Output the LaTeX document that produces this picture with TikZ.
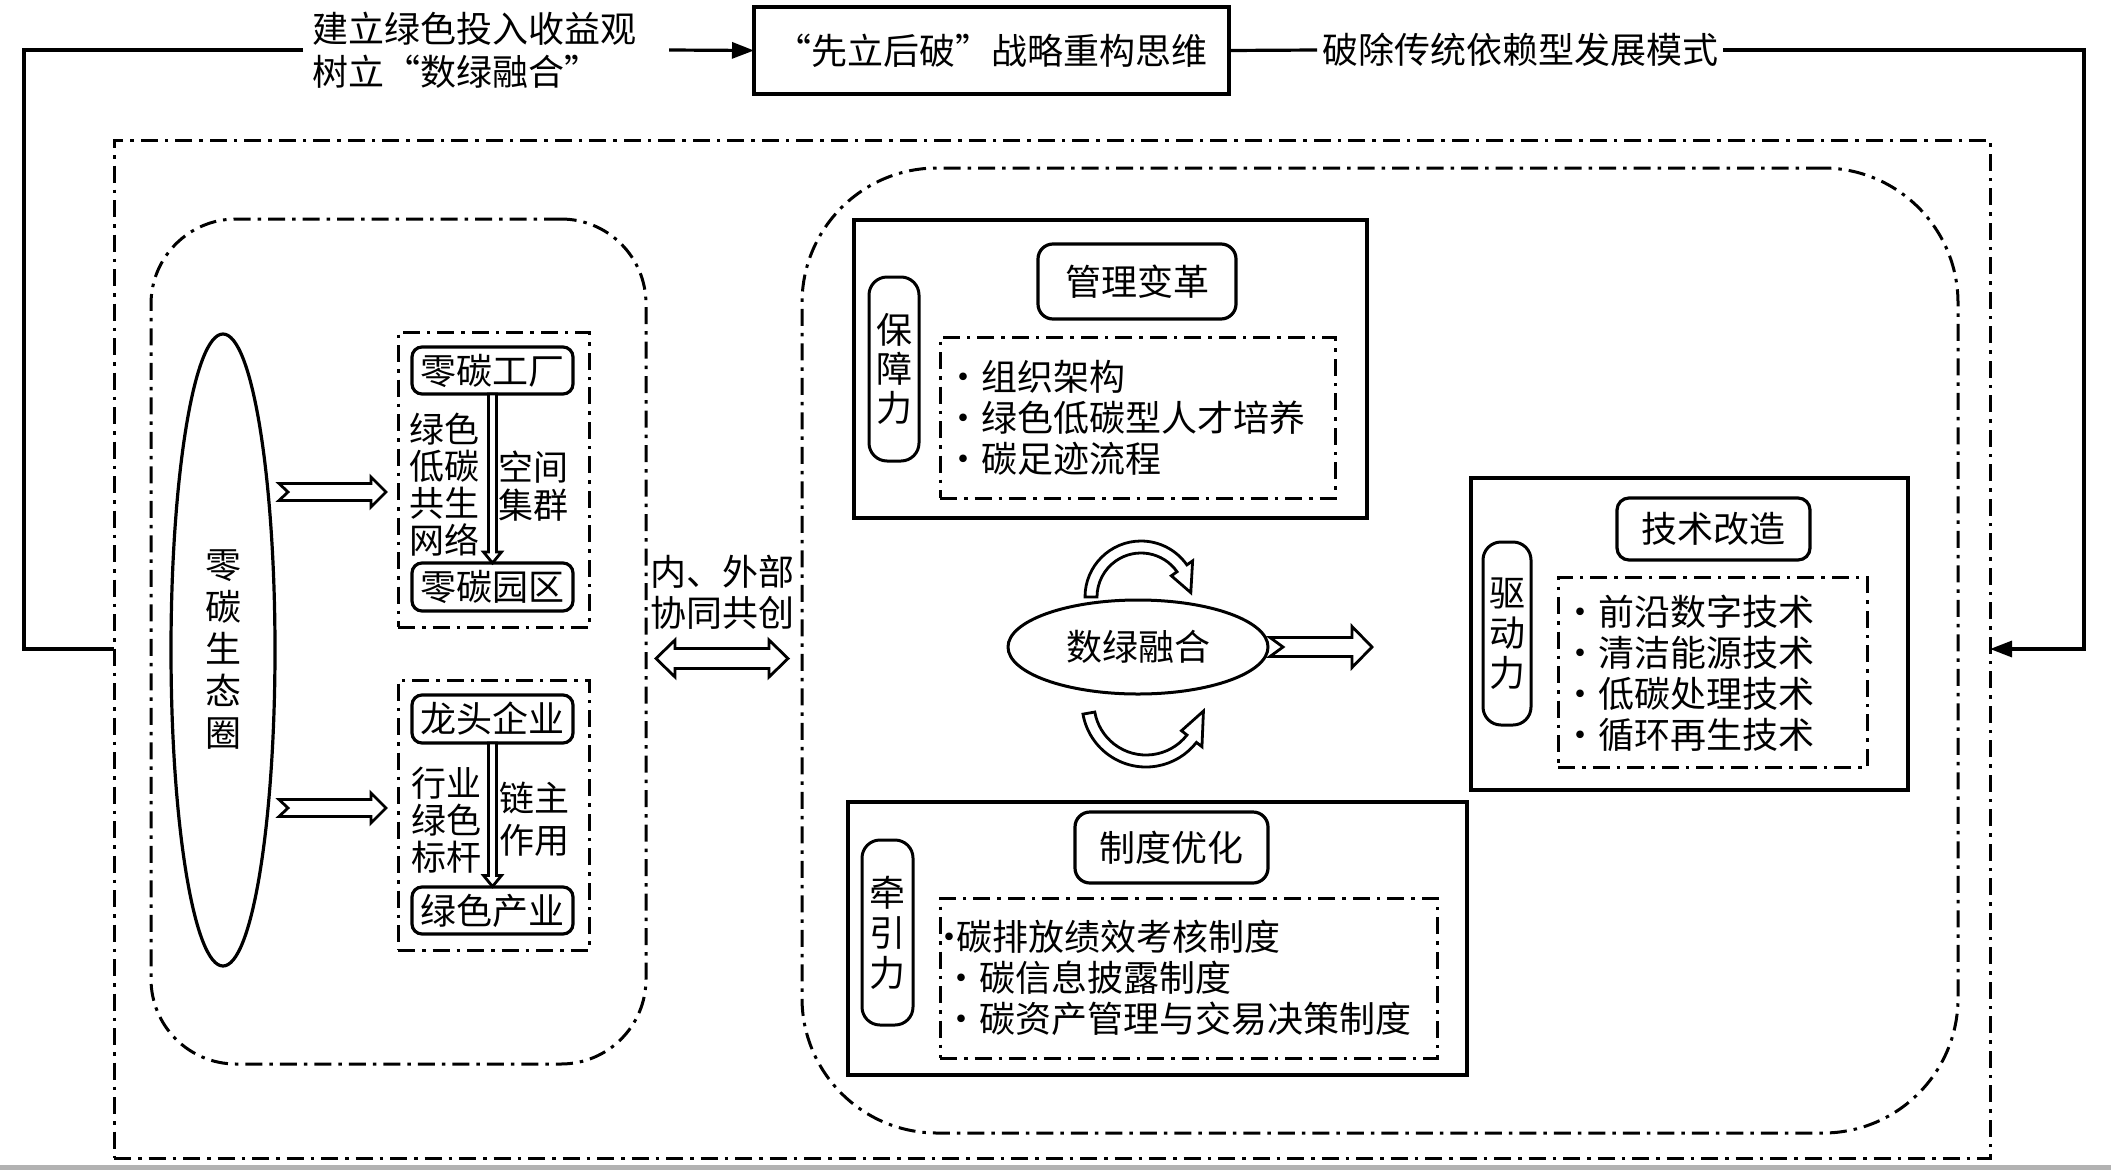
\documentclass[tikz,border=0pt]{standalone}
\usepackage{fontspec}
\setmainfont{Noto Sans CJK SC}
\usetikzlibrary{arrows.meta,calc,shapes.geometric}
\tikzset{
  sz/.style 2 args={minimum width=#1pt, minimum height=#2pt},
  sbox/.style={draw, line width=3.2pt, rectangle},
  rbox/.style={draw, line width=3.2pt, rounded corners=10pt},
  ddbox/.style={draw, line width=3pt, dash pattern=on 17pt off 7pt on 3.5pt off 7pt},
  pill/.style={draw, line width=3pt, rounded corners=18pt},
  conn/.style={line width=3.2pt},
  tip/.style={-{Triangle[length=22pt,width=16pt]}},
  hollow/.style={draw, line width=2.8pt, fill=white, line join=miter},
  pics/farrow/.style args={#1/#2/#3/#4/#5}{code={
    \draw[hollow] (0,-#2) -- ({#1-#4},-#2) -- ({#1-#4},-#3) -- (#1,0) -- ({#1-#4},#3) -- ({#1-#4},#2) -- (0,#2) -- (#5,0) -- cycle;
  }},
  pics/dfarrow/.style args={#1/#2/#3/#4}{code={
    \draw[hollow] (#4,-#2) -- ({#1-#4},-#2) -- ({#1-#4},-#3) -- (#1,0) -- ({#1-#4},#3) -- ({#1-#4},#2) -- (#4,#2) -- (#4,#3) -- (0,0) -- (#4,-#3) -- cycle;
  }},
}
\begin{document}
\begin{tikzpicture}[x=1pt,y=-1pt,
  every node/.style={inner sep=0pt, outer sep=0pt, align=center, font=\fontsize{36}{41}\selectfont}]
\useasboundingbox (0,0) rectangle (2111,1170);
\fill[gray!60] (0,1165) rectangle (2111,1170);

% large regions
\node[ddbox, sz={1876}{1018}] (outer) at (1052,649) {};
\node[ddbox, rounded corners=85pt, sz={495}{845}] (lreg) at (398.5,641.5) {};
\node[ddbox, rounded corners=135pt, sz={1156}{965}] (rreg) at (1380,650.5) {};

% top flow
\node[sbox, sz={475}{87}] (top) at (991.5,50.5) {“先立后破”战略重构思维};
\node[anchor=west, align=left, font=\fontsize{36}{43}\selectfont] (lt) at (312,50) {建立绿色投入收益观\\树立“数绿融合”};
\node[inner sep=5pt] (rt) at (1520,50) {破除传统依赖型发展模式};
\coordinate (a1) at (669,50);
\coordinate (c0) at (303,50);
\coordinate (c1) at (24,50);
\coordinate (c2) at (24,649);
\coordinate (c3) at (2084,50);
\coordinate (c4) at (2084,649);
\draw[conn] (c0) -- (c1) -- (c2) -- (outer.west);
\draw[conn, tip] (a1) -- (top.west);
\draw[conn] (top.east) -- (rt.west);
\draw[conn, tip] (rt.east) -- (c3) -- (c4) -- (outer.east);

% left ecosystem
\node[draw, ellipse, line width=3.2pt, sz={104}{632}, font=\fontsize{36}{42}\selectfont] (eco) at (223,650) {零\\碳\\生\\态\\圈};

\node[ddbox, sz={191}{295}] (ub) at (493.5,479.5) {};
\node[rbox, sz={161}{47}] (f1) at (492.5,370.5) {零碳工厂};
\node[rbox, sz={161}{48}] (f2) at (492.5,587) {零碳园区};
\pic[rotate=-90] at (f1.south) {farrow=169/4/9/11/0};
\node[font=\fontsize{35}{37}\selectfont] (f3) at (444,485) {绿色\\低碳\\共生\\网络};
\node[font=\fontsize{35}{38}\selectfont] (f4) at (533,486) {空间\\集群};

\node[ddbox, sz={191}{270}] (lb) at (493.5,815) {};
\node[rbox, sz={161}{48}] (g1) at (492.5,719) {龙头企业};
\node[rbox, sz={161}{47}] (g2) at (492.5,910.5) {绿色产业};
\pic[rotate=-90] at (g1.south) {farrow=143.5/4/9/11/0};
\node[font=\fontsize{35}{37}\selectfont] (g3) at (446,820) {行业\\绿色\\标杆};
\node[font=\fontsize{35}{42}\selectfont] (g4) at (534,819) {链主\\作用};

\coordinate (e1) at (279,492);
\coordinate (e2) at (279,808);
\pic at (e1) {farrow=107/8.5/15/15/9};
\pic at (e2) {farrow=107/8.5/15/15/9};

% middle
\node[font=\fontsize{36}{41}\selectfont] (io) at (722,592) {内、外部\\协同共创};
\coordinate (d1) at (656,658.5);
\pic at (d1) {dfarrow=132/10/18.5/19};

% guarantee group
\node[sbox, sz={513}{298}] (pg) at (1110.5,369) {};
\node[rbox, rounded corners=15pt, sz={198}{75}] (mt) at (1137,281.5) {管理变革};
\node[pill, sz={50}{184}, font=\fontsize{36}{39}\selectfont] (mp) at (894,369) {保\\障\\力};
\node[ddbox, sz={395}{161}] (ml) at (1137.5,417.5) {};
\node[anchor=west, align=left] (mlt) at (952,417.5) {\makebox[22pt][c]{•}\hspace{8pt}组织架构\\\makebox[22pt][c]{•}\hspace{8pt}绿色低碳型人才培养\\\makebox[22pt][c]{•}\hspace{8pt}碳足迹流程};

% centre
\node[draw, ellipse, line width=3pt, sz={260}{94}] (sh) at (1138,647) {数绿融合};
\coordinate (s1) at (1270,647);
\pic at (s1) {farrow=102/9.5/20.5/20/13};
\coordinate (ua) at (1141,597);
\draw[hollow] ($(ua)+(180:56)$) arc[start angle=180,end angle=325,radius=56] -- ($(ua)+(325:63)$) -- ($(ua)+(355:50)$) -- ($(ua)+(325:37)$) -- ($(ua)+(325:44)$) arc[start angle=325,end angle=180,radius=44] -- cycle;
\coordinate (la) at (1146,703);
\draw[hollow] ($(la)+(170:64)$) arc[start angle=170,end angle=38,radius=64] -- ($(la)+(38:71)$) -- ($(la)+(8:58)$) -- ($(la)+(38:45)$) -- ($(la)+(38:52)$) arc[start angle=38,end angle=170,radius=52] -- cycle;

% institution group
\node[sbox, sz={619}{273}] (zg) at (1157.5,938.5) {};
\node[rbox, rounded corners=15pt, sz={193}{71}] (zt) at (1171.5,847.5) {制度优化};
\node[pill, sz={51}{185}, font=\fontsize{36}{40}\selectfont] (zp) at (887.5,932.5) {牵\\引\\力};
\node[ddbox, sz={497}{160}] (zl) at (1188.5,978) {};
\node[anchor=west, align=left] (zlt) at (942,977.5) {\makebox[14pt][c]{·}碳排放绩效考核制度\\\hspace*{8pt}\makebox[22pt][c]{•}\hspace{8pt}碳信息披露制度\\\hspace*{8pt}\makebox[22pt][c]{•}\hspace{8pt}碳资产管理与交易决策制度};

% driving group
\node[sbox, sz={437}{312}] (qg) at (1689.5,634) {};
\node[rbox, rounded corners=12pt, sz={193}{62}] (qt) at (1713.5,529) {技术改造};
\node[pill, sz={48}{183}, font=\fontsize{36}{40}\selectfont] (qp) at (1507,633.5) {驱\\动\\力};
\node[ddbox, sz={309}{190}] (ql) at (1712.5,672) {};
\node[anchor=west, align=left] (qlt) at (1569,673) {\makebox[22pt][c]{•}\hspace{8pt}前沿数字技术\\\makebox[22pt][c]{•}\hspace{8pt}清洁能源技术\\\makebox[22pt][c]{•}\hspace{8pt}低碳处理技术\\\makebox[22pt][c]{•}\hspace{8pt}循环再生技术};
\end{tikzpicture}
\end{document}
